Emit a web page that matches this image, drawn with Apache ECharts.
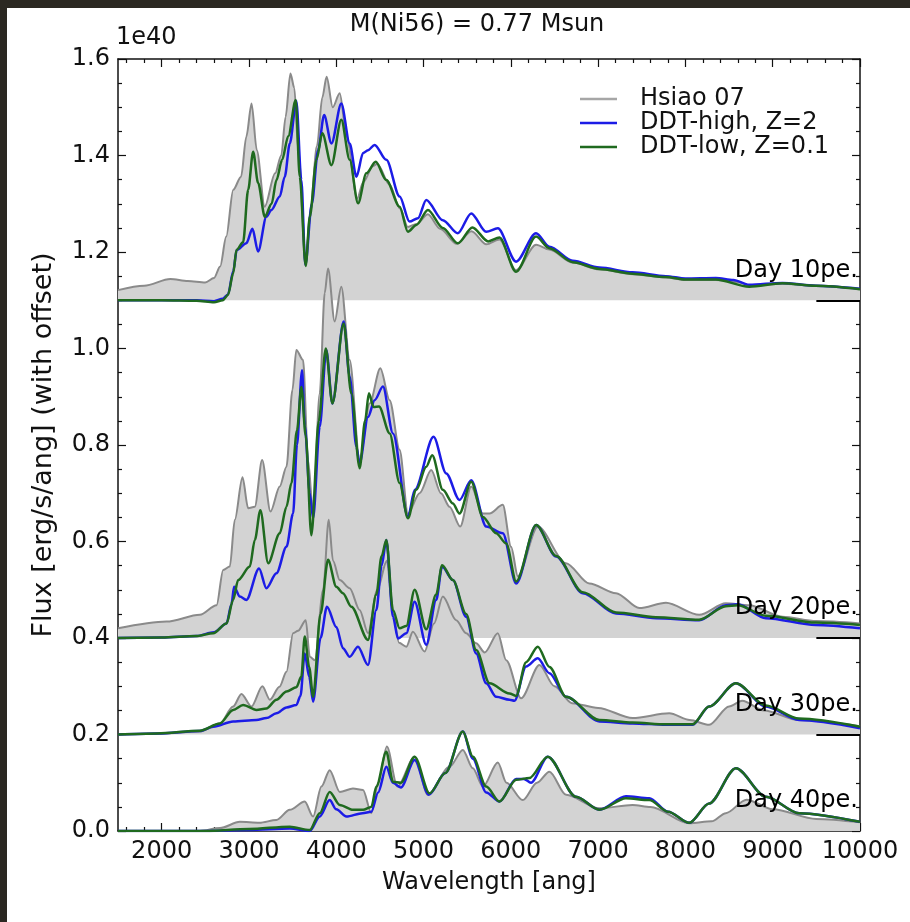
<!DOCTYPE html>
<html>
<head>
<meta charset="utf-8">
<title>M(Ni56) = 0.77 Msun</title>
<script src="https://cdn.jsdelivr.net/npm/echarts@6.0.0/dist/echarts.min.js"></script>
<style>
html, body { margin: 0; padding: 0; background: #fff; }
#chart { width: 910px; height: 922px; }
</style>
</head>
<body>
<div id="chart"></div>
<script>
// flux in units of 1e40 erg/s/ang, before the vertical offset of each epoch
var dayLabels = ['Day 10pe.', 'Day 20pe.', 'Day 30pe.', 'Day 40pe.'];
var offsets = [1.1, 0.4, 0.2, 0.0];
var xTicks = [2000, 3000, 4000, 5000, 6000, 7000, 8000, 9000, 10000];
var yTicks = [0.0, 0.2, 0.4, 0.6, 0.8, 1.0, 1.2, 1.4, 1.6];

// ---- Day 10 ----
var hsiao10 = [[1500,0.021],[1800,0.03],[2100,0.044],[2300,0.04],[2500,0.037],[2600,0.046],[2670,0.07],[2740,0.132],[2820,0.229],[2910,0.256],[2970,0.339],[3030,0.408],[3090,0.311],[3180,0.194],[3300,0.263],[3370,0.30],[3420,0.38],[3475,0.47],[3520,0.44],[3565,0.31],[3650,0.077],[3700,0.18],[3780,0.32],[3840,0.42],[3890,0.463],[3960,0.40],[4040,0.429],[4120,0.339],[4240,0.211],[4310,0.245],[4420,0.278],[4470,0.283],[4610,0.24],[4730,0.19],[4820,0.152],[4920,0.158],[5050,0.178],[5190,0.148],[5380,0.117],[5550,0.143],[5720,0.116],[5870,0.126],[6060,0.062],[6290,0.115],[6440,0.105],[6710,0.078],[7010,0.064],[7400,0.054],[7780,0.047],[8000,0.042],[8350,0.042],[8600,0.038],[8750,0.03],[9100,0.034],[9500,0.03],[10000,0.023]];
var high10 = [[1500,0.0],[2000,0.0],[2400,0.0],[2600,-0.002],[2700,0.003],[2760,0.012],[2820,0.06],[2860,0.104],[2970,0.118],[3040,0.148],[3105,0.101],[3200,0.173],[3257,0.187],[3353,0.215],[3410,0.256],[3468,0.325],[3543,0.413],[3600,0.25],[3646,0.073],[3720,0.2],[3792,0.311],[3861,0.384],[3945,0.325],[4058,0.408],[4154,0.325],[4231,0.256],[4308,0.305],[4364,0.311],[4440,0.322],[4574,0.291],[4726,0.215],[4840,0.163],[4936,0.17],[5031,0.208],[5221,0.166],[5393,0.139],[5546,0.18],[5718,0.142],[5851,0.149],[6060,0.08],[6289,0.139],[6442,0.111],[6709,0.082],[7014,0.068],[7395,0.058],[7776,0.05],[8000,0.045],[8348,0.046],[8550,0.042],[8730,0.032],[9111,0.036],[9493,0.03],[10000,0.024]];
var low10 = [[1500,0.0],[2000,0.0],[2400,-0.001],[2600,-0.004],[2700,0.0],[2760,0.011],[2820,0.056],[2857,0.104],[2933,0.12],[2991,0.229],[3048,0.308],[3105,0.243],[3182,0.173],[3260,0.2],[3315,0.249],[3380,0.291],[3450,0.34],[3536,0.415],[3582,0.256],[3650,0.071],[3697,0.173],[3773,0.291],[3840,0.346],[3945,0.28],[4058,0.374],[4154,0.291],[4250,0.201],[4345,0.263],[4452,0.287],[4574,0.249],[4726,0.194],[4821,0.142],[4917,0.156],[5050,0.187],[5220,0.15],[5393,0.118],[5560,0.151],[5740,0.122],[5870,0.13],[6060,0.059],[6289,0.132],[6442,0.108],[6709,0.079],[7014,0.065],[7395,0.055],[7776,0.048],[8000,0.043],[8348,0.043],[8730,0.028],[9111,0.035],[9493,0.03],[10000,0.023]];

// ---- Day 20 ----
var hsiao20 = [[1500,0.02],[2057,0.034],[2438,0.048],[2629,0.068],[2705,0.141],[2781,0.148],[2838,0.245],[2926,0.333],[2991,0.269],[3067,0.272],[3151,0.369],[3247,0.262],[3353,0.314],[3430,0.355],[3498,0.514],[3543,0.597],[3620,0.576],[3677,0.369],[3735,0.258],[3811,0.507],[3868,0.715],[3906,0.766],[3982,0.656],[4058,0.728],[4154,0.576],[4268,0.369],[4383,0.486],[4505,0.559],[4612,0.493],[4726,0.39],[4821,0.258],[4955,0.30],[5088,0.348],[5200,0.30],[5298,0.272],[5420,0.231],[5546,0.314],[5680,0.258],[5756,0.258],[5908,0.276],[6003,0.189],[6080,0.128],[6309,0.231],[6632,0.155],[6900,0.113],[7205,0.093],[7472,0.062],[7777,0.073],[8158,0.048],[8463,0.072],[8730,0.068],[9111,0.044],[9500,0.035],[10000,0.03]];
var high20 = [[1500,0.0],[2000,0.001],[2400,0.004],[2600,0.012],[2743,0.03],[2800,0.07],[2830,0.106],[2896,0.086],[2971,0.079],[3116,0.144],[3200,0.103],[3315,0.134],[3430,0.189],[3506,0.258],[3550,0.4],[3608,0.555],[3640,0.44],[3697,0.3],[3735,0.248],[3811,0.438],[3886,0.597],[3956,0.486],[4085,0.656],[4154,0.542],[4231,0.396],[4268,0.362],[4364,0.458],[4440,0.493],[4535,0.521],[4650,0.424],[4821,0.251],[4900,0.307],[5115,0.417],[5260,0.341],[5412,0.286],[5546,0.327],[5718,0.231],[5908,0.217],[6061,0.113],[6290,0.234],[6519,0.169],[6823,0.093],[7205,0.051],[7662,0.041],[8158,0.037],[8463,0.068],[8600,0.07],[8921,0.041],[9493,0.027],[10000,0.02]];
var low20 = [[1500,0.0],[2000,0.001],[2400,0.004],[2591,0.01],[2743,0.03],[2819,0.079],[2876,0.12],[3010,0.148],[3067,0.203],[3131,0.265],[3220,0.155],[3353,0.217],[3430,0.272],[3487,0.321],[3550,0.43],[3601,0.52],[3650,0.42],[3715,0.213],[3800,0.45],[3880,0.60],[3956,0.486],[4085,0.652],[4173,0.507],[4268,0.352],[4330,0.45],[4374,0.507],[4428,0.479],[4490,0.48],[4612,0.424],[4726,0.321],[4821,0.248],[4917,0.307],[5031,0.355],[5099,0.379],[5221,0.307],[5336,0.279],[5412,0.258],[5546,0.324],[5680,0.251],[5832,0.217],[5947,0.196],[6061,0.117],[6290,0.234],[6519,0.17],[6823,0.095],[7205,0.053],[7662,0.043],[8158,0.038],[8463,0.066],[8600,0.068],[8921,0.046],[9493,0.032],[10000,0.027]];

// ---- Day 30 ----
var hsiao30 = [[1500,0.0],[2000,0.002],[2438,0.006],[2667,0.023],[2819,0.058],[2914,0.084],[3029,0.058],[3154,0.10],[3240,0.072],[3350,0.099],[3430,0.13],[3506,0.21],[3563,0.215],[3651,0.237],[3697,0.161],[3754,0.154],[3850,0.30],[3914,0.445],[3963,0.36],[4040,0.32],[4154,0.303],[4268,0.258],[4364,0.21],[4470,0.3],[4580,0.36],[4650,0.25],[4720,0.19],[4803,0.182],[4878,0.213],[5012,0.172],[5120,0.23],[5221,0.286],[5374,0.237],[5488,0.21],[5603,0.189],[5700,0.17],[5851,0.21],[5947,0.154],[6118,0.075],[6328,0.144],[6500,0.1],[6700,0.065],[7000,0.055],[7395,0.034],[7815,0.044],[8050,0.03],[8272,0.02],[8500,0.058],[8650,0.07],[8900,0.05],[9300,0.03],[10000,0.017]];
var high30 = [[1500,0.0],[1950,0.002],[2438,0.007],[2591,0.016],[2819,0.027],[3086,0.03],[3200,0.034],[3315,0.044],[3430,0.056],[3543,0.061],[3590,0.08],[3639,0.168],[3690,0.12],[3735,0.068],[3820,0.2],[3894,0.265],[4001,0.223],[4077,0.179],[4154,0.161],[4249,0.182],[4364,0.144],[4459,0.258],[4520,0.35],[4574,0.403],[4650,0.244],[4707,0.199],[4803,0.21],[4898,0.275],[5031,0.186],[5145,0.279],[5213,0.348],[5336,0.32],[5488,0.244],[5603,0.168],[5718,0.106],[5832,0.078],[5985,0.072],[6042,0.07],[6175,0.141],[6309,0.158],[6442,0.127],[6633,0.078],[7014,0.027],[7395,0.023],[7776,0.02],[8081,0.02],[8272,0.058],[8578,0.106],[8921,0.058],[9302,0.03],[10000,0.013]];
var low30 = [[1500,0.0],[1950,0.002],[2438,0.008],[2667,0.023],[2819,0.051],[2933,0.061],[3086,0.051],[3200,0.054],[3315,0.072],[3430,0.089],[3544,0.098],[3600,0.12],[3639,0.203],[3690,0.14],[3735,0.078],[3820,0.25],[3906,0.362],[4001,0.306],[4077,0.293],[4173,0.265],[4364,0.196],[4459,0.29],[4520,0.37],[4574,0.403],[4650,0.258],[4726,0.22],[4803,0.225],[4898,0.30],[5031,0.218],[5145,0.29],[5213,0.351],[5336,0.32],[5488,0.25],[5603,0.175],[5756,0.106],[5985,0.085],[6060,0.08],[6175,0.15],[6309,0.182],[6442,0.14],[6633,0.078],[7014,0.03],[7395,0.025],[7776,0.021],[8081,0.021],[8272,0.058],[8578,0.106],[8921,0.06],[9302,0.033],[10000,0.016]];

// ---- Day 40 ----
var hsiao40 = [[1500,0.0],[2438,0.0],[2667,0.006],[2896,0.019],[3120,0.017],[3315,0.023],[3468,0.044],[3639,0.061],[3735,0.03],[3830,0.092],[3925,0.126],[4040,0.081],[4192,0.088],[4307,0.085],[4402,0.037],[4480,0.1],[4580,0.175],[4700,0.092],[4898,0.154],[5050,0.075],[5298,0.133],[5450,0.168],[5565,0.13],[5680,0.092],[5851,0.142],[5950,0.1],[6137,0.064],[6300,0.1],[6442,0.123],[6633,0.075],[7014,0.047],[7395,0.054],[7600,0.05],[8044,0.016],[8300,0.02],[8463,0.037],[8700,0.065],[9000,0.045],[9500,0.025],[10000,0.018]];
var high40 = [[1500,0.0],[2500,0.0],[3000,0.002],[3468,0.005],[3697,0.0],[3811,0.03],[3925,0.064],[4000,0.045],[4117,0.03],[4300,0.037],[4402,0.04],[4480,0.08],[4574,0.133],[4650,0.1],[4740,0.09],[4898,0.147],[5060,0.075],[5250,0.12],[5450,0.206],[5565,0.15],[5718,0.08],[5870,0.061],[6061,0.108],[6150,0.108],[6231,0.1],[6423,0.154],[6747,0.071],[7014,0.044],[7319,0.072],[7586,0.068],[7800,0.04],[8044,0.017],[8272,0.057],[8578,0.13],[8921,0.071],[9302,0.037],[10000,0.019]];
var low40 = [[1500,0.0],[2500,0.0],[3000,0.004],[3468,0.009],[3697,0.002],[3811,0.037],[3925,0.081],[4040,0.054],[4192,0.044],[4307,0.044],[4402,0.05],[4460,0.092],[4574,0.164],[4650,0.102],[4740,0.1],[4898,0.154],[5069,0.078],[5250,0.12],[5450,0.206],[5565,0.154],[5718,0.092],[5870,0.061],[6061,0.106],[6213,0.11],[6423,0.154],[6747,0.071],[7014,0.044],[7319,0.068],[7586,0.064],[7800,0.04],[8044,0.017],[8272,0.057],[8578,0.13],[8921,0.071],[9302,0.037],[10000,0.019]];

var days = [
  { hsiao: hsiao10, high: high10, low: low10 },
  { hsiao: hsiao20, high: high20, low: low20 },
  { hsiao: hsiao30, high: high30, low: low30 },
  { hsiao: hsiao40, high: high40, low: low40 }
];

var FONT = 'DejaVu Sans';
var minorX = [];
for (var w = 1600; w < 10000; w += 200) {
  if (w % 1000 !== 0) minorX.push(w);
}

function shifted(arr, off) {
  return arr.map(function (p) { return [p[0], +(p[1] + off).toFixed(4)]; });
}

var series = [];
days.forEach(function (d, i) {
  var off = offsets[i];
  series.push({
    name: 'Hsiao 07', type: 'line', data: shifted(d.hsiao, off),
    smooth: 0.3, smoothMonotone: 'x', symbol: 'none', silent: true,
    lineStyle: { color: '#8a8a8a', width: 2 },
    itemStyle: { color: '#a6a6a6' },
    areaStyle: { color: '#d3d3d3', opacity: 1, origin: off }
  });
  series.push({
    name: 'DDT-high, Z=2', type: 'line', data: shifted(d.high, off),
    smooth: 0.3, smoothMonotone: 'x', symbol: 'none', silent: true,
    lineStyle: { color: '#1c1ce6', width: 2.5 },
    itemStyle: { color: '#1c1ce6' }
  });
  series.push({
    name: 'DDT-low, Z=0.1', type: 'line', data: shifted(d.low, off),
    smooth: 0.3, smoothMonotone: 'x', symbol: 'none', silent: true,
    lineStyle: { color: '#1f6a1f', width: 2.5 },
    itemStyle: { color: '#1f6a1f' }
  });
});

// epoch labels and the short baseline marks at the right edge
series.push({
  name: 'labels', type: 'scatter', symbolSize: 0, silent: true, z: 10,
  itemStyle: { opacity: 1 },
  data: offsets.map(function (o, i) {
    return { value: [10000, o + 0.062], label: { formatter: dayLabels[i] } };
  }),
  label: { show: true, position: 'left', distance: 2, color: '#000', opacity: 1, fontSize: 24, fontFamily: FONT },
  markLine: {
    silent: true, symbol: ['none', 'none'], label: { show: false },
    lineStyle: { color: '#000', width: 2, type: 'solid', opacity: 1 },
    data: offsets.filter(function (o) { return o > 0; }).map(function (o) {
      return [{ coord: [9500, o] }, { coord: [10000, o] }];
    })
  }
});

var axisLineStyle = { show: true, lineStyle: { color: '#111', width: 1.5 } };
var tickStyle = { color: '#111', width: 1.2 };
var txt = { fontFamily: FONT, fontSize: 24, color: '#111' };

var option = {
  backgroundColor: '#ffffff',
  animation: false,
  title: {
    text: 'M(Ni56) = 0.77 Msun', left: 472, top: 8, textAlign: 'center',
    textStyle: { fontFamily: FONT, fontSize: 24, fontWeight: 'normal', color: '#111' }
  },
  legend: {
    data: [
      { name: 'Hsiao 07', icon: 'rect' },
      { name: 'DDT-high, Z=2', icon: 'rect' },
      { name: 'DDT-low, Z=0.1', icon: 'rect' }
    ],
    orient: 'vertical', left: 575, top: 82, itemWidth: 37, itemHeight: 2.5, itemGap: 0,
    textStyle: { fontFamily: FONT, fontSize: 24, color: '#111', padding: [0, 0, 0, 18], lineHeight: 24 },
    selectedMode: false
  },
  grid: { left: 118, right: 50, top: 59, bottom: 91 },
  xAxis: [
    {
      type: 'value', min: 1500, max: 10000, position: 'bottom',
      name: 'Wavelength [ang]', nameLocation: 'middle', nameGap: 40,
      nameTextStyle: txt,
      axisLine: axisLineStyle, splitLine: { show: false },
      axisTick: { show: true, inside: true, length: 8, lineStyle: tickStyle, customValues: xTicks },
      axisLabel: {
        customValues: xTicks, margin: 9, fontFamily: FONT, fontSize: 24, color: '#111',
        formatter: function (v) { return String(v); }
      }
    },
    {
      type: 'value', min: 1500, max: 10000, position: 'bottom',
      axisLine: { show: false }, splitLine: { show: false }, axisLabel: { show: false },
      axisTick: { show: true, inside: true, length: 4, lineStyle: tickStyle, customValues: minorX }
    },
    {
      type: 'value', min: 1500, max: 10000, position: 'top',
      axisLine: axisLineStyle, splitLine: { show: false }, axisLabel: { show: false },
      axisTick: { show: true, inside: true, length: 8, lineStyle: tickStyle, customValues: xTicks }
    },
    {
      type: 'value', min: 1500, max: 10000, position: 'top',
      axisLine: { show: false }, splitLine: { show: false }, axisLabel: { show: false },
      axisTick: { show: true, inside: true, length: 4, lineStyle: tickStyle, customValues: minorX }
    }
  ],
  yAxis: [
    {
      type: 'value', min: 0, max: 1.6, interval: 0.2, position: 'left',
      name: 'Flux [erg/s/ang] (with offset)', nameLocation: 'middle', nameGap: 61, nameRotate: 90,
      nameTextStyle: { fontFamily: FONT, fontSize: 27, color: '#111' },
      axisLine: axisLineStyle, splitLine: { show: false },
      axisTick: { show: true, inside: true, length: 8, lineStyle: tickStyle },
      minorTick: { show: true, splitNumber: 4, length: 4, lineStyle: tickStyle },
      minorSplitLine: { show: false },
      axisLabel: {
        margin: 8, fontFamily: FONT, fontSize: 24, color: '#111',
        formatter: function (v) { return yTicks.indexOf(+v.toFixed(1)) >= 0 ? v.toFixed(1) : ''; }
      }
    },
    {
      type: 'value', min: 0, max: 1.6, interval: 0.2, position: 'right',
      axisLine: axisLineStyle, splitLine: { show: false }, axisLabel: { show: false },
      axisTick: { show: true, inside: true, length: 8, lineStyle: tickStyle },
      minorTick: { show: true, splitNumber: 4, length: 4, lineStyle: tickStyle }
    }
  ],
  graphic: [
    { type: 'rect', left: 0, top: 0, shape: { width: 910, height: 8 }, style: { fill: '#2b2822' }, z: 100 },
    { type: 'rect', left: 0, top: 0, shape: { width: 7, height: 922 }, style: { fill: '#2b2822' }, z: 100 },
    {
      type: 'text', left: 116, top: 26, z: 100,
      style: { text: '1e40', font: '24px "DejaVu Sans"', fill: '#111' }
    }
  ],
  series: series
};

var chart = echarts.init(document.getElementById('chart'));
chart.setOption(option);
</script>
</body>
</html>
